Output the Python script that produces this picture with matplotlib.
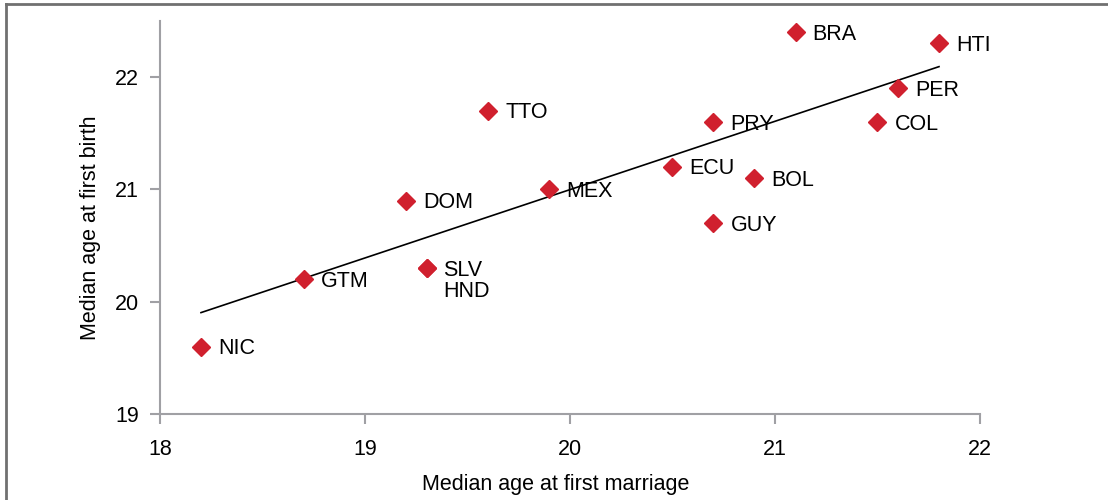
import numpy as np
import matplotlib
matplotlib.use("Agg")
import matplotlib.pyplot as plt
from matplotlib.lines import Line2D

plt.rcParams['font.family'] = ['Liberation Sans', 'DejaVu Sans']

# Datos: edad mediana al primer matrimonio (x) y al primer nacimiento (y)
countries = ['NIC', 'GTM', 'SLV', 'HND', 'DOM', 'TTO', 'MEX', 'ECU',
             'PRY', 'GUY', 'BOL', 'BRA', 'COL', 'PER', 'HTI']
marriage = [18.2, 18.7, 19.3, 19.3, 19.2, 19.6, 19.9, 20.5,
            20.7, 20.7, 20.9, 21.1, 21.5, 21.6, 21.8]
birth = [19.6, 20.2, 20.3, 20.3, 20.9, 21.7, 21.0, 21.2,
         21.6, 20.7, 21.1, 22.4, 21.6, 21.9, 22.3]

red = '#d0202e'
gray = '#a0a0a4'
fs = 15.5

fig = plt.figure(figsize=(11.08, 5), dpi=100)
ax = fig.add_axes([160 / 1108, 1 - 414 / 500, 820 / 1108, 393 / 500])

ax.plot(marriage, birth, linestyle='none', marker='D', markersize=9,
        color=red, zorder=3)

# Linea de tendencia (ajuste lineal)
slope, intercept = np.polyfit(marriage, birth, 1)
xs = np.array([min(marriage), max(marriage)])
ax.plot(xs, slope * xs + intercept, color='black', linewidth=1.2, zorder=2)

# Etiquetas de paises
for name, x, y in zip(countries, marriage, birth):
    dy = -23 if name == 'HND' else -2
    ax.annotate(name, (x, y), xytext=(17, dy), textcoords='offset pixels',
                ha='left', va='center', fontsize=fs)

ax.set_xlim(18, 22)
ax.set_ylim(19, 22.5)
ax.set_xticks([18, 19, 20, 21, 22])
ax.set_yticks([19, 20, 21, 22])
ax.tick_params(direction='out', length=7, width=1.5, color=gray,
               labelsize=fs, pad=11)
ax.tick_params(axis='y', pad=8)
for side in ['top', 'right']:
    ax.spines[side].set_visible(False)
for side in ['left', 'bottom']:
    ax.spines[side].set_color(gray)
    ax.spines[side].set_linewidth(1.5)

ax.set_xlabel('Median age at first marriage', fontsize=fs, labelpad=10)
ax.set_ylabel('Median age at first birth', fontsize=fs, labelpad=10)
ax.xaxis.label.set_x(0.482)
ax.yaxis.label.set_y(0.475)

# Marco exterior
fig.add_artist(Line2D([6 / 1108, 1], [1 - 4 / 500] * 2, transform=fig.transFigure,
                      color='#707070', linewidth=2))
fig.add_artist(Line2D([6 / 1108] * 2, [0, 1 - 4 / 500], transform=fig.transFigure,
                      color='#707070', linewidth=2))

fig.savefig('out.png', dpi=100)
